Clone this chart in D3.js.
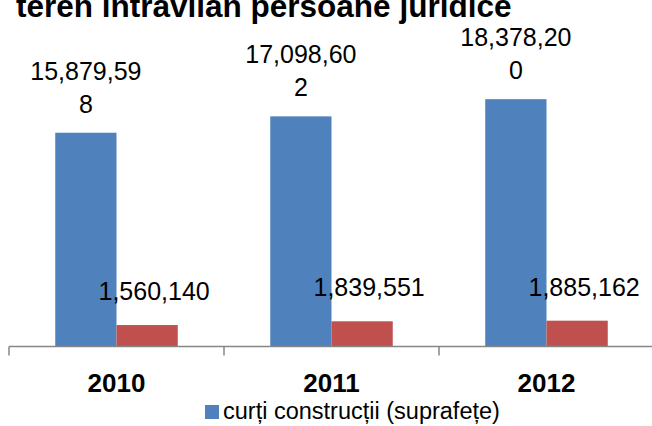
<!DOCTYPE html>
<html>
<head>
<meta charset="utf-8">
<script src="https://cdn.jsdelivr.net/npm/d3@7"></script>
<style>
  html, body { margin: 0; padding: 0; background: #fff; }
  svg { display: block; font-family: "Liberation Sans", Arial, sans-serif; }
</style>
</head>
<body>
<svg id="chart" width="652" height="426"></svg>
<script>
// chart data
const title = "teren intravilan persoane juridice";
const years = ["2010", "2011", "2012"];
const seriesNames = ["curți construcții (suprafețe)", "teren intravilan persoane juridice"];
const curtiValues = [15879598, 17098602, 18378200];
const terenValues = [1560140, 1839551, 1885162];
const colors = ["#4F81BD", "#C0504D"];

const width = 652;
const height = 426;
const margin = { top: 77, right: -2, bottom: 80, left: 9 };
const baseline = height - margin.bottom;

const svg = d3.select("#chart");

const rows = years.map((year, i) => ({
    year: year,
    values: [curtiValues[i], terenValues[i]]
}));

// scales
const x0 = d3.scaleBand()
    .domain(years)
    .range([margin.left, width - margin.right])
    .padding(0);

const x1 = d3.scaleBand()
    .domain([0, 1])
    .range([0, x0.bandwidth()])
    .paddingOuter(0.755)
    .paddingInner(0);

const y = d3.scaleLinear()
    .domain([0, 20000000])
    .range([baseline, margin.top + 0.4]);

const fmt = d3.format(",");

// wrap long labels the way the data labels break in the original
function wrapLabel(s) {
    const maxChars = 9;
    const lines = [];
    for (let i = 0; i < s.length; i += maxChars) lines.push(s.slice(i, i + maxChars));
    return lines;
}

// title (partly cut at top, as in the original)
svg.append("text")
    .attr("x", 16)
    .attr("y", 17)
    .attr("font-weight", "bold")
    .attr("font-size", 31.5)
    .attr("fill", "#000")
    .text(title);

// bars
const groups = svg.append("g")
    .selectAll("g")
    .data(rows)
    .join("g")
    .attr("transform", d => `translate(${x0(d.year)},0)`);

groups.selectAll("rect")
    .data(d => d.values.map((v, k) => ({ k: k, v: v })))
    .join("rect")
    .attr("x", d => x1(d.k))
    .attr("y", d => y(d.v))
    .attr("width", x1.bandwidth())
    .attr("height", d => baseline - y(d.v))
    .attr("fill", d => colors[d.k]);

// axis
const axis = svg.append("g")
    .attr("transform", `translate(0,${baseline + 0.5})`);

axis.append("line")
    .attr("x1", x0.range()[0])
    .attr("x2", x0.range()[1])
    .attr("stroke", "#868686")
    .attr("stroke-width", 1.5);

axis.selectAll("line.tick")
    .data(years.concat(["end"]))
    .join("line")
    .attr("class", "tick")
    .attr("x1", (d, i) => x0.range()[0] + i * x0.bandwidth())
    .attr("x2", (d, i) => x0.range()[0] + i * x0.bandwidth())
    .attr("y1", 0)
    .attr("y2", 9)
    .attr("stroke", "#868686")
    .attr("stroke-width", 1.5);

axis.selectAll("text")
    .data(years)
    .join("text")
    .attr("x", d => x0(d) + x0.bandwidth() / 2)
    .attr("y", 45)
    .attr("text-anchor", "middle")
    .attr("font-weight", "bold")
    .attr("font-size", 26)
    .attr("fill", "#000")
    .text(d => d);

// data labels for the first series (wrapped, above bars)
const lineH = 33;
groups.append("text")
    .attr("text-anchor", "middle")
    .attr("font-size", 25)
    .attr("fill", "#000")
    .each(function(d) {
        const lines = wrapLabel(fmt(d.values[0]));
        const cx = x1(0) + x1.bandwidth() / 2;
        const top = y(d.values[0]) - 20 - (lines.length - 1) * lineH;
        d3.select(this).selectAll("tspan")
            .data(lines)
            .join("tspan")
            .attr("x", cx)
            .attr("y", (l, i) => top + i * lineH)
            .text(l => l);
    });

// data labels for the second series
groups.append("text")
    .attr("x", x1(1) + x1.bandwidth() / 2 + 7)
    .attr("y", d => y(d.values[1]) - 25)
    .attr("text-anchor", "middle")
    .attr("font-size", 25)
    .attr("fill", "#000")
    .text(d => fmt(d.values[1]));

// legend (only the first entry is visible in the crop)
const legend = svg.append("g")
    .attr("transform", "translate(205,405)");

legend.append("rect")
    .attr("width", 14)
    .attr("height", 14)
    .attr("fill", colors[0]);

legend.append("text")
    .attr("x", 18)
    .attr("y", 14)
    .attr("font-size", 23.5)
    .attr("fill", "#000")
    .text(seriesNames[0]);
</script>
</body>
</html>
